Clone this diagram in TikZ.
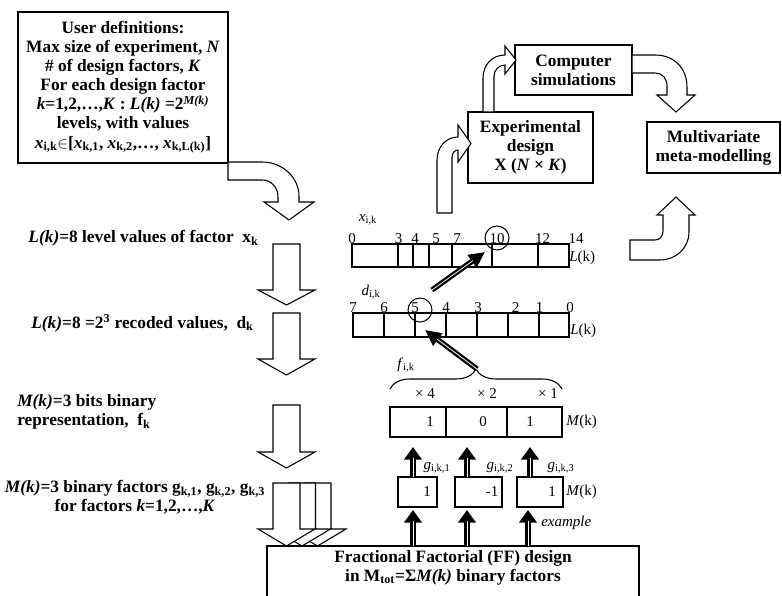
\documentclass[tikz,border=0pt]{standalone}
\usepackage{fontspec}
\setmainfont{Liberation Serif}
\usetikzlibrary{arrows.meta,decorations.pathreplacing}

% text sizes: bold captions and plain labels
\newcommand\bft{\fontsize{13}{14.3}\selectfont\bfseries}
\newcommand\rgt{\fontsize{11.25}{13}\selectfont}

\begin{document}
\begin{tikzpicture}[x=0.75pt,y=-0.75pt,
  box/.style={draw, line width=1.1pt, align=center, inner sep=0pt, font=\bft},
  capt/.style={align=center, inner sep=0pt, font=\bft},
  lab/.style={inner sep=0pt, font=\rgt},
  cell/.style={draw, line width=0.8pt},
  hollow/.style={draw, fill=white, line width=0.8pt, line join=miter},
  ring/.style={circle, draw, line width=0.8pt, minimum size=18pt, inner sep=0pt},
  bigv/.style={line width=4pt, -{Triangle[length=9.5pt 0, width=13pt 0]},
    postaction={draw=white, line width=0.55pt, -, shorten >=8.5pt}},
  bigd/.style={line width=4pt, -{Triangle[length=12pt 0, width=11pt 0]},
    postaction={draw=white, line width=0.55pt, -, shorten >=11pt}},
]
\useasboundingbox (0,0) rectangle (782,596);
\clip (0,0) rectangle (782,596);

% ---------- user input box ----------
\node[box, minimum width=157.5pt, minimum height=113.25pt] (user) at (123,87.5)
  {User definitions:\\
   Max size of experiment, \textit{N}\\
   \# of design factors, \textit{K}\\
   For each design factor\\
   \textit{k}=1,2,\ldots,\textit{K} : \textit{L(k)} =2\textsuperscript{\textit{M(k)}}\\
   levels, with values\\
   \textit{x}\textsubscript{i,k}$\in$[\textit{x}\textsubscript{k,1}, \textit{x}\textsubscript{k,2},\ldots, \textit{x}\textsubscript{k,L(k)}]};

% bent hollow arrow leaving the input box
\filldraw[hollow] (228,162) -- (262,162) .. controls (283,162) and (299,178) .. (299,196)
  -- (299,202) -- (314,202) -- (289,220) -- (264,202) -- (278,202) -- (278,197)
  .. controls (278,187) and (271,180) .. (262,180) -- (228,180) -- cycle;

% ---------- top right flow ----------
\node[box, minimum width=93.75pt, minimum height=53.25pt] (exp) at (530.5,147.5)
  {Experimental\\design\\X (\textit{N} × \textit{K})};
\node[box, minimum width=87.75pt, minimum height=37.5pt] (comp) at (573.5,70)
  {Computer\\simulations};
\node[box, minimum width=99.75pt, minimum height=38.25pt] (mv) at (713.5,147.5)
  {Multivariate\\meta-modelling};

% levels -> experimental design
\filldraw[hollow] (437,213) -- (437,160) .. controls (437,147) and (446,137) .. (458,137)
  -- (458,125) -- (471,143.5) -- (458,162) -- (458,150)
  .. controls (455,150) and (452,153) .. (452,157) -- (452,213) -- cycle;
% experimental design -> simulations
\filldraw[hollow] (483,112) -- (483,78) .. controls (483,65) and (492,55) .. (505,55)
  -- (505,46) -- (516,60) -- (505,74) -- (505,65)
  .. controls (499,65) and (494,70) .. (494,76) -- (494,112) -- cycle;
% simulations -> meta-modelling
\filldraw[hollow] (632,55) -- (655,55) .. controls (674,55) and (687,68) .. (687,87)
  -- (687,95) -- (695,95) -- (676,112) -- (657,95) -- (667,95) -- (667,86)
  .. controls (667,78) and (662,73) .. (655,73) -- (632,73) -- cycle;
% levels -> meta-modelling
\filldraw[hollow] (630,240) -- (655,240) .. controls (660,240) and (663,236) .. (663,231)
  -- (663,215) -- (657,215) -- (676,197) -- (695,215) -- (689,215) -- (689,232)
  .. controls (689,248) and (676,260) .. (660,260) -- (630,260) -- cycle;

% ---------- left column captions ----------
\node[capt] (capx) at (143.5,238)
  {\textit{L(k)}=8 level values of factor\ \ x\textsubscript{k}};
\node[capt] (capd) at (142.5,323)
  {\textit{L(k)}=8 =2\textsuperscript{3} recoded values,\ \ d\textsubscript{k}};
\node[capt, anchor=west, align=left] (capf) at (17,412)
  {\textit{M(k)}=3 bits binary\\representation,\ \ f\textsubscript{k}};
\node[capt] (capg) at (135,497.5)
  {\textit{M(k)}=3 binary factors g\textsubscript{k,1}, g\textsubscript{k,2}, g\textsubscript{k,3}\\
   for factors \textit{k}=1,2,\ldots,\textit{K}};

% hollow down arrows of the left column
\foreach \t/\h/\y in {244/290/305, 313/359/375, 405/452/468}
  \filldraw[hollow] (273,\t) -- (300,\t) -- (300,\h) -- (315,\h) -- (286.5,\y)
    -- (258,\h) -- (273,\h) -- cycle;
% three overlapping arrows into the FF design
\foreach \d in {31,15.5,0}
  \filldraw[hollow] (273+\d,483) -- (300+\d,483) -- (300+\d,529) -- (315+\d,529)
    -- (286.5+\d,546) -- (258+\d,529) -- (273+\d,529) -- cycle;

% ---------- level values x_{i,k} ----------
\node[lab] (xlab) at (368,220) {\textit{x}\textsubscript{i,k}};
\draw[cell] (352,244) rectangle (569,267);
\foreach \x in {398,413,429,452,492,538} \draw[cell] (\x,244) -- (\x,267);
\foreach \x/\v in {352/0,398.5/3,415/4,436/5,457/7,497/10,542.5/12,576/14}
  \node[lab, anchor=base] (xv\v) at (\x,243) {\v};
\node[ring] (c10) at (497,238) {};
\node[lab, anchor=west] (xL) at (569,258) {\textit{L}(k)};

% ---------- recoded values d_{i,k} ----------
\node[lab] (dlab) at (371,292) {\textit{d}\textsubscript{i,k}};
\draw[cell] (353,313) rectangle (569,337);
\foreach \x in {384,415,446,477,508,539} \draw[cell] (\x,313) -- (\x,337);
\foreach \x/\v in {353/7,384/6,415/5,446/4,478/3,515.5/2,539.5/1,570/0}
  \node[lab, anchor=base] (dv\v) at (\x,312) {\v};
\node[ring] (c5) at (420,310) {};
\node[lab, anchor=west] (dL) at (570,331) {\textit{L}(k)};

\coordinate (dtail) at (432,290);
\coordinate (xhead) at (485,252);
\draw[bigd] (dtail) -- (xhead);

% ---------- binary representation f_{i,k} ----------
\draw[line width=0.8pt, decorate, decoration={brace, amplitude=15pt}] (390,389) -- (562,389);
\coordinate (btip) at (477,369);
\coordinate (dhead) at (425,330);
\draw[bigd] (btip) -- (dhead);
\node[lab] (flab) at (406,365) {\textit{f}\textsubscript{i,k}};
\node[lab] (w4) at (425,394) {× 4};
\node[lab] (w2) at (487,394) {× 2};
\node[lab] (w1) at (548,394) {× 1};

\draw[cell] (390,407) rectangle (562,437);
\draw[cell] (446,407) -- (446,437) (507,407) -- (507,437);
\node[lab] (b1) at (430,422) {1};
\node[lab] (b2) at (483,422) {0};
\node[lab] (b3) at (530,422) {1};
\node[lab, anchor=west] (fM) at (566,422) {\textit{M}(k)};

% ---------- binary factors g_{i,k,j} ----------
\draw[cell] (398,477) rectangle (437,507);
\draw[cell] (455,477) rectangle (502,507);
\draw[cell] (517,477) rectangle (563,507);
\node[lab] (gv1) at (427,492) {1};
\node[lab] (gv2) at (492,492) {-1};
\node[lab] (gv3) at (552,492) {1};
\node[lab, anchor=west] (gM) at (566,492) {\textit{M}(k)};
\node[lab] (gl1) at (437,468) {\textit{g}\textsubscript{i,k,1}};
\node[lab] (gl2) at (500,468) {\textit{g}\textsubscript{i,k,2}};
\node[lab] (gl3) at (561,468) {\textit{g}\textsubscript{i,k,3}};
\node[lab, anchor=west] (ex) at (541,523) {\textit{example}};

\foreach \x [count=\i] in {413,467,530} {
  \coordinate (gt\i) at (\x,477);
  \coordinate (mb\i) at (\x,447);
  \draw[bigv] (gt\i) -- (mb\i);
}

% ---------- fractional factorial design ----------
\draw[line width=1.1pt, fill=white] (267,546) rectangle (639,620);
\node[capt] (ff) at (453,567.5)
  {Fractional Factorial (FF) design\\in M\textsubscript{tot}=Σ\textit{M(k)} binary factors};
\foreach \x [count=\i] in {413,467,528} {
  \coordinate (ft\i) at (\x,546);
  \coordinate (gb\i) at (\x,510);
  \draw[bigv] (ft\i) -- (gb\i);
}
\end{tikzpicture}
\end{document}
